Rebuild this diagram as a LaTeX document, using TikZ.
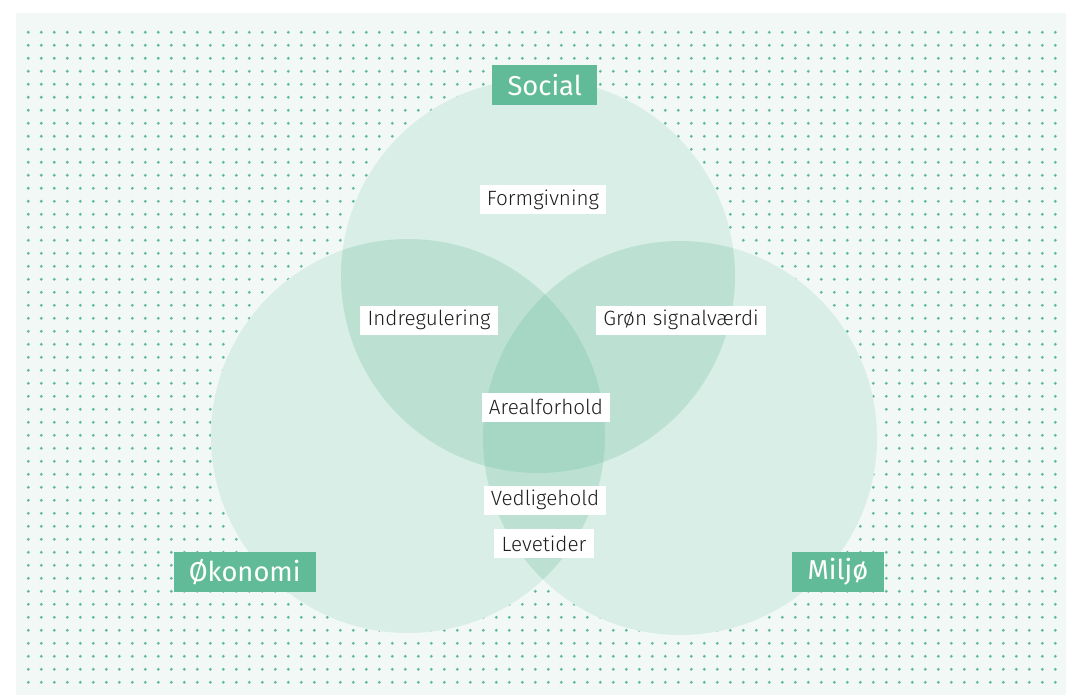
\documentclass[tikz,border=0pt]{standalone}
\usepackage{fontspec}
\IfFontExistsTF{Fira Sans Light}{\setmainfont{Fira Sans Light}}{\setmainfont{Fira Sans}}
\newfontfamily\catfont{Fira Sans}
\definecolor{bgc}{HTML}{F2F8F6}
\definecolor{dotc}{HTML}{62BB98}
\definecolor{gc}{HTML}{62BB98}
\definecolor{txt}{HTML}{1E1E1E}
\begin{document}
\begin{tikzpicture}[x=0.75pt,y=-0.75pt,
  catlabel/.style={fill=gc,text=white,font=\catfont\fontsize{20.5}{25}\selectfont,inner xsep=11.5pt,inner ysep=0pt,minimum height=30pt},
  innerlabel/.style={fill=white,text=txt,font=\fontsize{15.5}{18}\selectfont,inner xsep=5.4pt,inner ysep=0pt,minimum height=21.75pt},
  venn/.style={fill=gc,fill opacity=0.24},
  vennbase/.style={fill=white}]
\useasboundingbox (0,0) rectangle (1066,695);
\fill[white] (0,0) rectangle (1066,695);
\fill[bgc] (16,13) rectangle (1066,695);
\foreach \j in {0,...,50}{\foreach \i in {0,...,79}{\fill[dotc] (28.3+13*\i,32.3+13*\j) circle (1.2pt);}}
% venn circles
\coordinate (cs) at (538,276);
\coordinate (co) at (408,436);
\coordinate (cm) at (680,438);
\fill[vennbase] (cs) circle (147.75pt);
\fill[vennbase] (co) circle (147.75pt);
\fill[vennbase] (cm) circle (147.75pt);
\fill[venn] (cs) circle (147.75pt);
\fill[venn] (co) circle (147.75pt);
\fill[venn] (cm) circle (147.75pt);
% labels
\node[catlabel] (social) at (544.7,85.3) {Social};
\node[catlabel] (okonomi) at (244.7,571.7) {Økonomi};
\node[catlabel] (miljo) at (838,572) {Miljø};
\node[innerlabel] (form) at (543,200) {Formgivning};
\node[innerlabel] (indreg) at (429,320) {Indregulering};
\node[innerlabel] (gron) at (681,320) {Grøn signalværdi};
\node[innerlabel] (areal) at (546,407) {Arealforhold};
\node[innerlabel] (vedl) at (545,500) {Vedligehold};
\node[innerlabel] (leve) at (544,543.5) {Levetider};
\end{tikzpicture}
\end{document}
